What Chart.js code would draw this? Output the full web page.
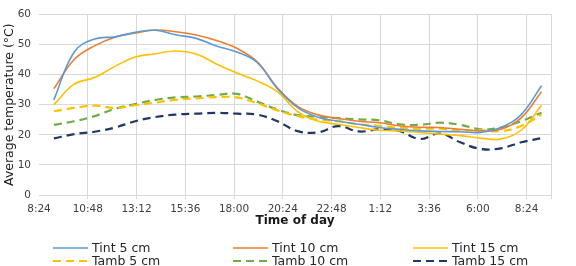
<!DOCTYPE html>
<html><head><meta charset="utf-8">
<script src="https://cdn.jsdelivr.net/npm/chart.js@4/dist/chart.umd.min.js"></script>
<style>html,body{margin:0;padding:0;background:#fff;overflow:hidden;} #wrap{width:576px;height:266px;position:relative;}</style>
</head><body><div id="wrap"><canvas id="c" width="576" height="266"></canvas></div>
<script>
// Reading times, minutes after midnight of day 1 (≈9:08 to ≈9:08 next day)
const times = [548,608,668,728,788,848,908,968,1028,1088,1148,1208,1268,1328,1388,1448,1508,1568,1628,1688,1748,1808,1868,1928,1988];
// Axis ticks (minutes): 8:24 every 2h24, ending at the 9:36 border
const tickMinutes = [504,648,792,936,1080,1224,1368,1512,1656,1800,1944,2016];
const seriesLabels = ['Tint 5 cm','Tint 10 cm','Tint 15 cm','Tamb 5 cm','Tamb 10 cm','Tamb 15 cm'];
const tint5  = [31.6,47.5,51.8,52.5,54.0,54.7,53.2,52.0,49.5,47.5,44.0,35.3,29.0,25.8,24.5,23.5,22.4,21.8,21.3,21.1,21.0,20.8,22.4,26.7,36.3];
const tint10 = [35.3,45.0,49.5,52.4,53.8,54.8,54.2,53.1,51.3,48.7,44.3,35.6,29.4,26.6,25.4,24.5,24.0,23.0,22.5,22.4,21.8,21.3,21.8,25.6,34.3];
const tint15 = [30.0,36.8,39.0,42.7,45.8,46.9,47.8,46.8,43.5,40.5,37.9,34.3,27.7,24.5,23.5,22.4,21.5,21.3,20.8,20.2,19.7,18.9,18.6,21.5,29.8];
const tamb5  = [27.8,28.9,29.7,28.9,29.8,30.7,31.6,32.1,32.5,32.4,30.5,28.1,26.2,25.0,24.5,23.5,23.0,22.3,22.0,22.0,21.5,21.5,21.2,22.9,26.7];
const tamb10 = [23.3,24.5,26.2,28.6,30.2,31.6,32.4,32.7,33.2,33.6,31.0,28.4,26.5,26.0,25.5,25.1,24.8,23.5,23.3,24.0,23.3,21.8,22.4,24.5,27.3];
const tamb15 = [18.8,20.2,21.0,22.4,24.5,25.9,26.7,27.0,27.3,27.0,26.7,24.5,21.2,20.8,22.9,21.1,21.8,21.3,18.6,20.4,17.5,15.3,15.5,17.5,18.9];

const values = [tint5,tint10,tint15,tamb5,tamb10,tamb15];
const colors = ['#5B9BD5','#ED7D31','#FFC000','#FFC000','#70AD47','#1F3864'];
const FONT = "'DejaVu Sans', Verdana, sans-serif";

const datasets = values.map((arr,i)=>({
  label: seriesLabels[i],
  data: arr.map((v,k)=>({x:times[k], y:v})),
  borderColor: colors[i],
  backgroundColor: colors[i],
  borderWidth: i<3 ? 1.6 : 2.2,
  borderDash: i<3 ? [] : [8,5],
  pointRadius: 0,
  tension: 0.4,
  fill: false
}));

function fmtTime(m){
  const mm = ((m % 1440) + 1440) % 1440;
  const h = Math.floor(mm/60), mi = mm % 60;
  return h + ':' + (mi<10?'0':'') + mi;
}

const legendPlugin = {
  id: 'gridLegend',
  afterDraw(chart){
    const ctx = chart.ctx;
    const cols = [53, 233, 413];
    const rows = [248, 261];
    ctx.save();
    chart.data.datasets.forEach((ds,i)=>{
      const c = i % 3, r = Math.floor(i/3);
      const x = cols[c], y = rows[r];
      ctx.beginPath();
      ctx.strokeStyle = ds.borderColor;
      ctx.lineWidth = ds.borderWidth;
      ctx.setLineDash(ds.borderDash);
      ctx.moveTo(x, y);
      ctx.lineTo(x+35, y);
      ctx.stroke();
      ctx.setLineDash([]);
      ctx.fillStyle = '#262626';
      ctx.font = '12.5px ' + FONT;
      ctx.textBaseline = 'middle';
      ctx.textAlign = 'left';
      ctx.fillText(ds.label, x+39, y+0.5);
    });
    ctx.restore();
  }
};

new Chart(document.getElementById('c'), {
  type: 'line',
  data: { datasets },
  options: {
    responsive: false,
    animation: false,
    layout: { padding: { top: 11, right: 25, bottom: 34, left: 0 } },
    plugins: { legend: { display: false }, tooltip: { enabled: false } },
    scales: {
      x: {
        type: 'linear',
        min: 504, max: 2016,
        afterBuildTicks(scale){ scale.ticks = tickMinutes.map(v=>({value:v})); },
        afterFit(scale){ scale.height = 37; },
        grid: {
          color: (ctx)=> ctx.index===0 ? 'rgba(0,0,0,0)' : '#D9D9D9',
          lineWidth: 1,
          tickLength: 4
        },
        border: { display: false },
        ticks: {
          autoSkip: false, maxRotation: 0, minRotation: 0, padding: 4,
          color: '#404040',
          font: { family: FONT, size: 10.5 },
          callback: (v)=> v===2016 ? '' : fmtTime(v)
        },
        title: {
          display: true, text: 'Time of day', color: '#1a1a1a',
          font: { family: FONT, size: 12, weight: 'bold' },
          padding: { top: 0, bottom: 4 }
        }
      },
      y: {
        min: 0, max: 60,
        afterFit(scale){ scale.width = 39; },
        grid: { color: '#D9D9D9', lineWidth: 1, drawTicks: false },
        border: { display: false },
        ticks: {
          stepSize: 10, padding: 8, color: '#404040',
          font: { family: FONT, size: 10.5 }
        },
        title: {
          display: true, text: 'Average temperature (°C)', color: '#1a1a1a',
          font: { family: FONT, size: 12.5 },
          padding: { top: 2, bottom: 0 }
        }
      }
    }
  },
  plugins: [legendPlugin]
});
</script>
</body></html>
